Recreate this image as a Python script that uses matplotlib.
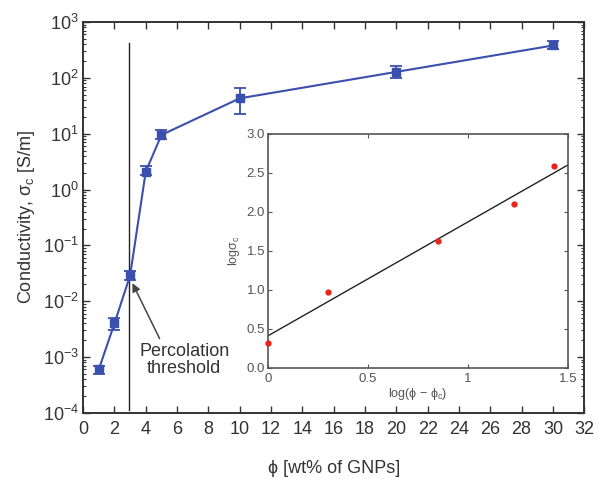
import numpy as np
import matplotlib
matplotlib.use('Agg')
import matplotlib.pyplot as plt
from matplotlib.ticker import LogLocator, NullFormatter, MultipleLocator

plt.rcParams['font.family'] = ['Liberation Sans', 'DejaVu Sans']
plt.rcParams['mathtext.fontset'] = 'custom'
plt.rcParams['mathtext.rm'] = 'Liberation Sans'
plt.rcParams['mathtext.it'] = 'Liberation Sans:italic'

# ── Data ─────────────────────────────────────────────────────────────────────
phi = [1, 2, 3, 4, 5, 10, 20, 30]
sigma = [6.0e-4, 4.0e-3, 0.029, 2.1, 9.5, 43, 128, 380]
sigma_lo = [5.0e-4, 3.0e-3, 0.024, 1.8, 8.1, 23, 100, 330]
sigma_hi = [7.0e-4, 5.0e-3, 0.035, 2.6, 11.5, 66, 165, 450]

phi_c = 2.9
threshold_span = [1.15e-4, 420]

inset_x = [0.0, 0.30, 0.85, 1.23, 1.43]
inset_y = [0.32, 0.97, 1.62, 2.10, 2.58]
fit_intercept = 0.41
fit_slope = 1.46

TXT = '#333333'
BLUE = '#3a4fae'
FS = 13

fig = plt.figure(figsize=(5.98, 4.79), dpi=100)
ax = fig.add_axes([0.139, 0.138, 0.838, 0.816])

# ── Main plot ────────────────────────────────────────────────────────────────
yerr = [np.array(sigma) - np.array(sigma_lo), np.array(sigma_hi) - np.array(sigma)]
ax.errorbar(phi, sigma, yerr=yerr, color=BLUE, marker='s', markersize=5.5,
            linewidth=1.5, elinewidth=1.3, capsize=4.5, capthick=1.3, zorder=3)
ax.plot([phi_c, phi_c], threshold_span, color='#222222', linewidth=1.0, zorder=2)

ax.set_yscale('log')
ax.set_xlim(0, 32)
ax.set_ylim(1e-4, 1e3)
ax.xaxis.set_major_locator(MultipleLocator(2))
ax.yaxis.set_major_locator(LogLocator(base=10, numticks=10))
ax.yaxis.set_minor_locator(LogLocator(base=10, subs=np.arange(2, 10), numticks=20))
ax.yaxis.set_minor_formatter(NullFormatter())
ax.tick_params(which='both', direction='in', top=True, right=True,
               colors=TXT, labelsize=FS)
ax.tick_params(which='major', length=5, width=1.0)
ax.tick_params(which='minor', length=2.5, width=0.8)
ax.tick_params(axis='x', pad=6)
ax.tick_params(axis='y', pad=3)
for s in ax.spines.values():
    s.set_color(TXT)
    s.set_linewidth(1.4)

ax.set_xlabel('\u03d5 [wt% of GNPs]', fontsize=FS, color=TXT, labelpad=16)
ax.set_ylabel('Conductivity, $\\mathregular{\\sigma_c}$ [S/m]', fontsize=FS,
              color=TXT, labelpad=4)

ax.annotate('Percolation\nthreshold', xy=(3.15, 0.021), xytext=(6.45, 9e-4),
            ha='center', va='center', fontsize=FS, color=TXT,
            linespacing=1.0,
            arrowprops=dict(arrowstyle='-|>', color='#444444', lw=1.1,
                            mutation_scale=12, shrinkA=1, shrinkB=0,
                            relpos=(0.25, 1.0)))

# ── Inset ────────────────────────────────────────────────────────────────────
ins = fig.add_axes([0.448, 0.232, 0.502, 0.489])
ins.plot(inset_x, inset_y, 'o', color='#e8231c', markersize=3.5, zorder=3,
         clip_on=False)
fx = np.array([0.0, 1.5])
ins.plot(fx, fit_intercept + fit_slope * fx, color='#222222', linewidth=1.0)
ins.set_xlim(0, 1.5)
ins.set_ylim(0, 3.0)
ins.set_xticks([0, 0.5, 1, 1.5])
ins.set_xticklabels(['0', '0.5', '1', '1.5'])
ins.set_yticks(np.arange(0, 3.01, 0.5))
ins.set_yticklabels([f'{v:.1f}' for v in np.arange(0, 3.01, 0.5)])
ins.tick_params(direction='in', top=True, right=True, colors='#555555',
                labelsize=9.5, length=3, width=0.8)
ins.tick_params(axis='y', pad=2)
for s in ins.spines.values():
    s.set_color('#555555')
    s.set_linewidth(1.2)
ins.set_xlabel('log(\u03d5 \u2212 \u03d5$\\mathregular{_c}$)', fontsize=9,
               color='#555555', labelpad=1)
ins.set_ylabel('log$\\mathregular{\\sigma_c}$', fontsize=9, color='#555555',
               labelpad=3)

fig.savefig('out.png', dpi=100)
